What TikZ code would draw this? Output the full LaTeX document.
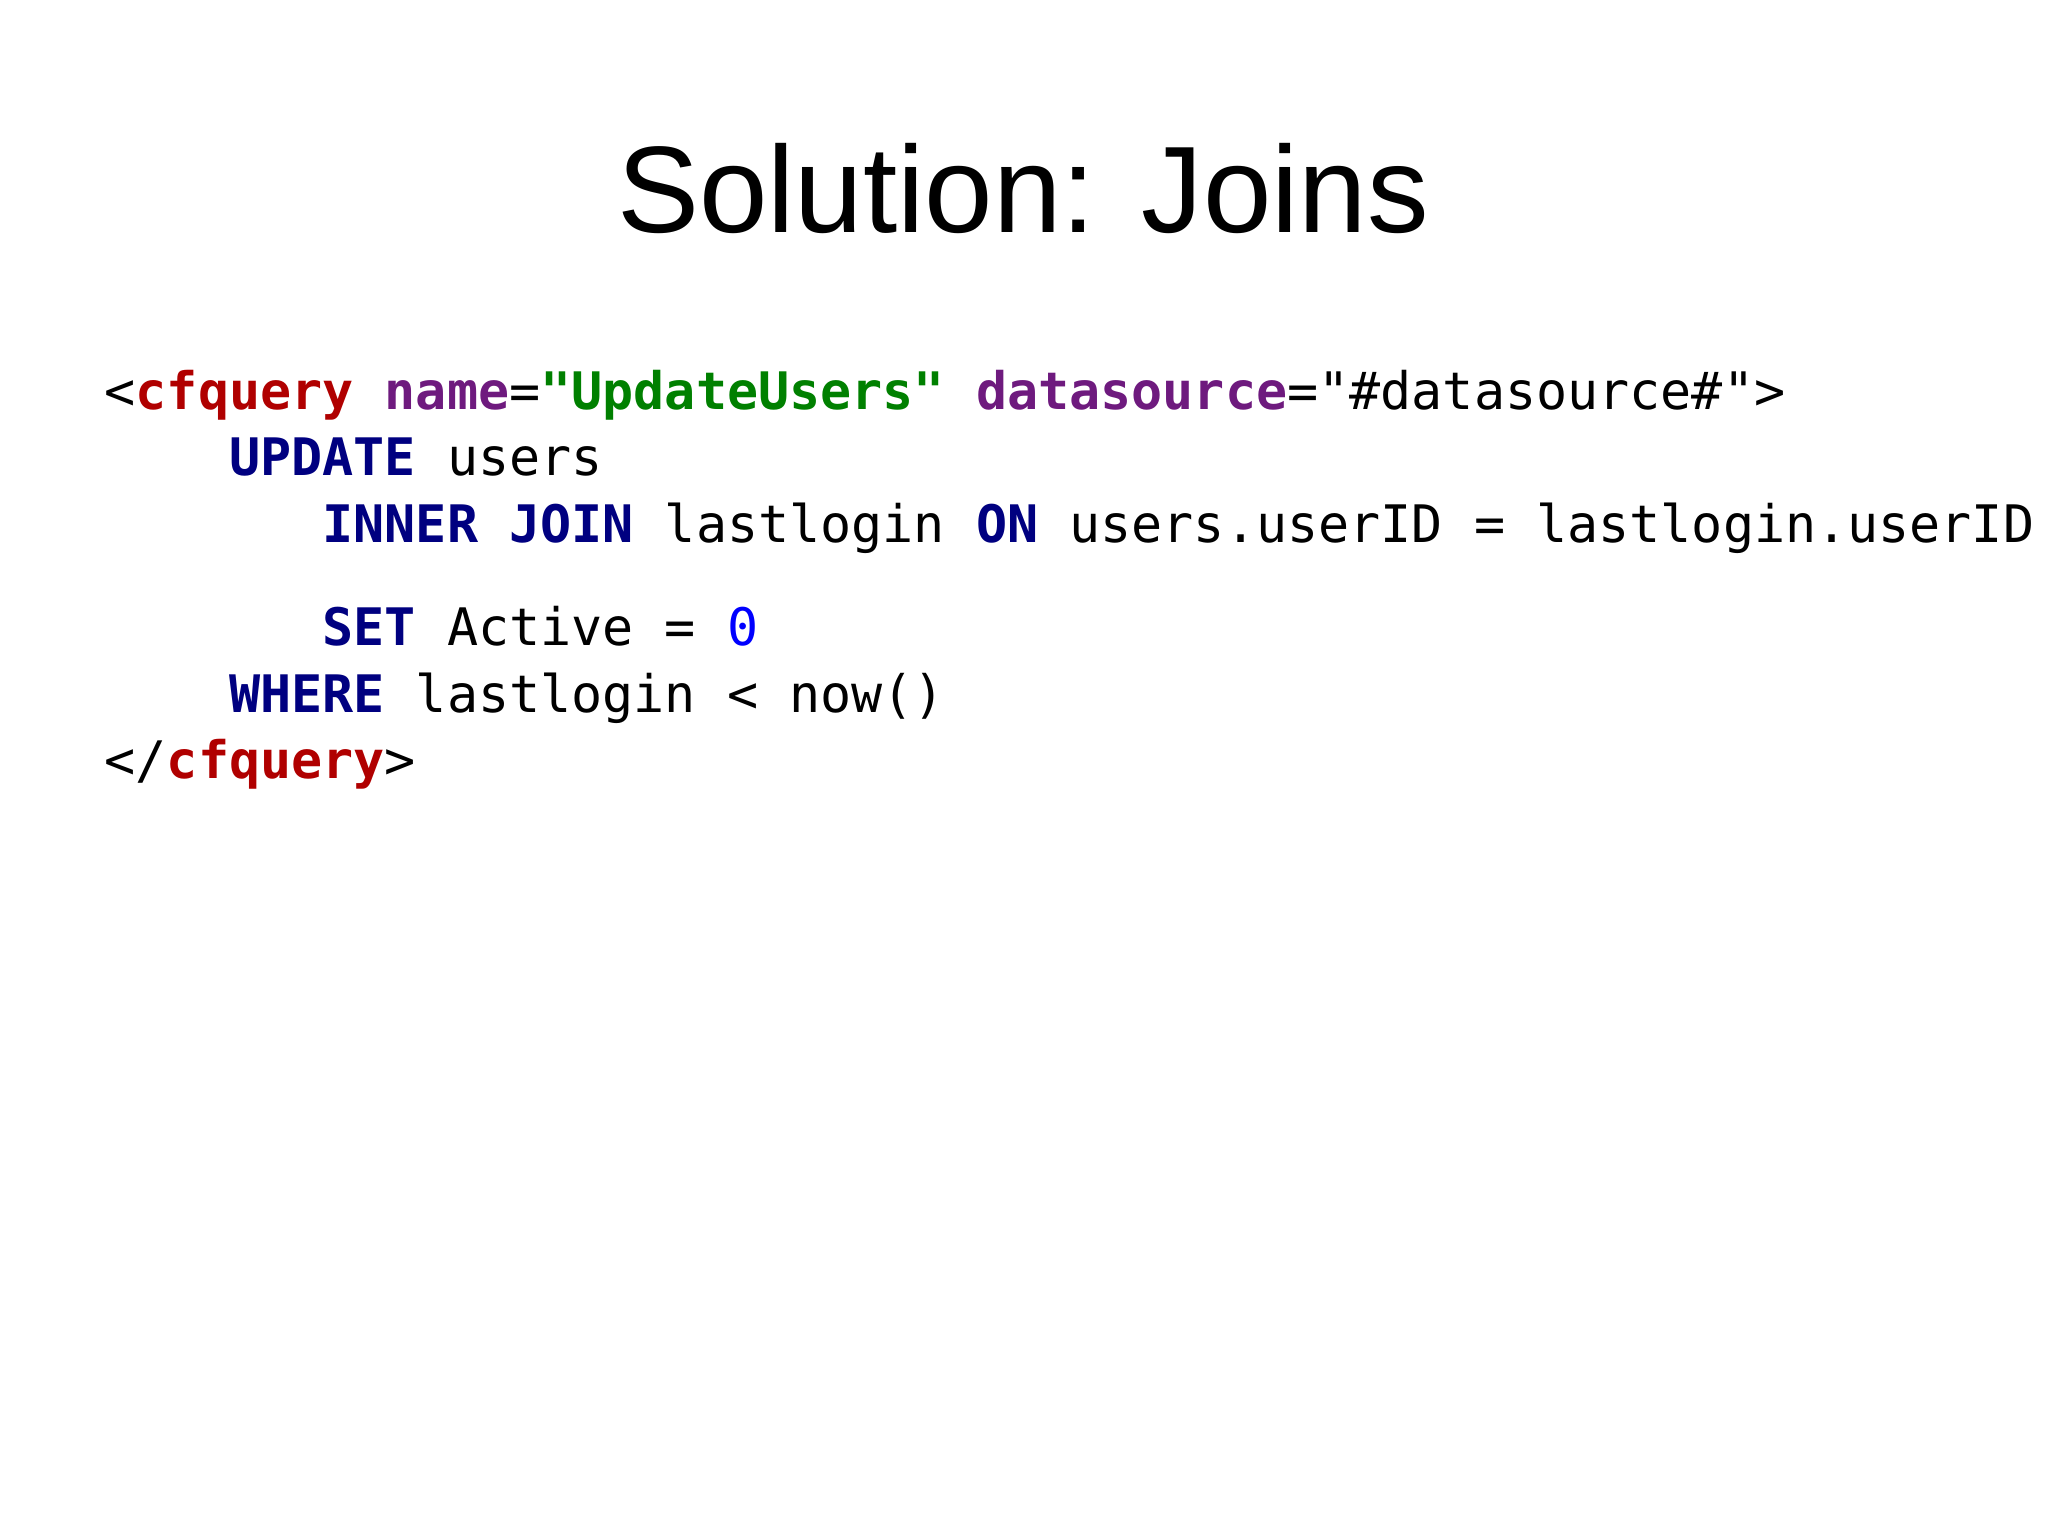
\documentclass[tikz,border=0pt]{standalone}
\usepackage{fontspec}
\setmainfont{Liberation Sans}
\setmonofont{DejaVu Sans Mono}
\definecolor{tagc}{HTML}{B00000}
\definecolor{attc}{HTML}{6E1A7E}
\definecolor{strc}{HTML}{008000}
\definecolor{kwc}{HTML}{000080}
\definecolor{numc}{HTML}{0000FF}
\begin{document}
\begin{tikzpicture}[x=0.01cm,y=-0.01cm,
  code/.style={anchor=base west,inner sep=0pt,font=\ttfamily\fontsize{14.7pt}{17pt}\selectfont}]
\useasboundingbox (0,0) rectangle (2048,1535);
\clip (0,0) rectangle (2048,1535);
\node[anchor=base,inner sep=0pt,font=\fontsize{35pt}{40pt}\selectfont] (title) at (1023,232) {Solution: Joins};
\node[code] (l1) at (104,409) {<\textcolor{tagc}{\bfseries cfquery} \textcolor{attc}{\bfseries name}=\textcolor{strc}{\bfseries"UpdateUsers"} \textcolor{attc}{\bfseries datasource}="\#datasource\#">};
\node[code] (l2) at (104,475) {\phantom{xxxx}\textcolor{kwc}{\bfseries UPDATE} users};
\node[code] (l3) at (104,542) {\phantom{xxxxxxx}\textcolor{kwc}{\bfseries INNER JOIN} lastlogin \textcolor{kwc}{\bfseries ON} users.userID = lastlogin.userID};
\node[code] (l4) at (104,645) {\phantom{xxxxxxx}\textcolor{kwc}{\bfseries SET} Active = \textcolor{numc}{0}};
\node[code] (l5) at (104,712) {\phantom{xxxx}\textcolor{kwc}{\bfseries WHERE} lastlogin < now()};
\node[code] (l6) at (104,778) {</\textcolor{tagc}{\bfseries cfquery}>};
\end{tikzpicture}
\end{document}
